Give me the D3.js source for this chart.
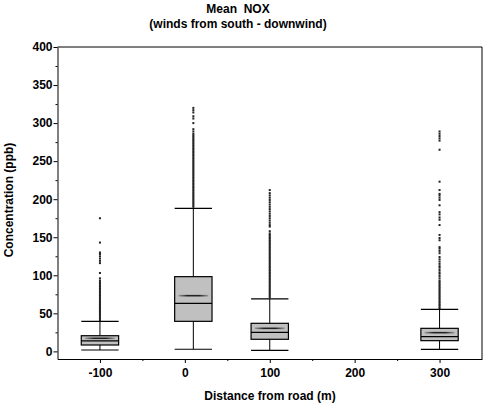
<!DOCTYPE html>
<html>
<head>
<meta charset="utf-8">
<script src="https://cdn.jsdelivr.net/npm/d3@7"></script>
<style>
  body { margin: 0; background: #fff; }
  svg text { font-family: "Liberation Sans", Arial, sans-serif; font-weight: bold; fill: #000; }
</style>
</head>
<body>
<svg id="chart" width="489" height="406"></svg>
<script>
// Box statistics per site (distance from road, m)
let distances = [-100, 10, 100, 300];
let whiskerLow = [1.8, 2.8, 1.4, 2.7];
let q1 = [8.4, 39.5, 15.9, 14.1];
let medians = [13.7, 63.2, 25.1, 19.3];
let means = [17.2, 73.2, 30.3, 24.6];
let q3 = [20.6, 98.2, 36.9, 30.3];
let whiskerHigh = [39.5, 188, 68.9, 55.3];

// Outliers (ppb)
let outliersM100 = [41, 43, 45, 47, 49, 51, 53, 55, 57, 59, 61, 63, 65, 67, 69, 71, 73, 75, 77, 79,
    81, 83, 85, 87, 89, 91, 93, 96, 103, 116, 119, 122, 125, 128, 130, 143, 175];
let outliers0 = [190, 192, 194, 196, 198, 200, 202, 204, 206, 208, 210, 212, 214, 216, 218, 220,
    222, 224, 226, 228, 230, 232, 234, 236, 238, 240, 242, 244, 246, 248, 250, 252, 254, 256, 258,
    260, 262, 264, 266, 268, 270, 272, 274, 276, 278, 280, 282, 284, 286, 289, 292, 300, 306, 309,
    314, 317, 320];
let outliers100 = [71, 73, 75, 77, 79, 81, 83, 85, 87, 89, 91, 93, 95, 97, 99, 101, 103, 105, 107,
    109, 111, 113, 115, 117, 119, 121, 123, 125, 127, 129, 131, 133, 135, 137, 139, 141, 143, 145,
    147, 149, 151, 153, 155, 158, 164, 166, 169, 172, 175, 178, 181, 184, 187, 190, 193, 196, 199,
    202, 205, 208, 212];
let outliers300 = [57, 59, 61, 63, 65, 67, 69, 71, 73, 75, 77, 79, 81, 83, 85, 87, 89, 91, 93, 96,
    99, 102, 104, 107, 110, 112, 115, 118, 121, 124, 129, 132, 135, 137, 146, 149, 153, 166, 173,
    176, 180, 183, 192, 199, 202, 205, 207, 212, 223, 265, 277, 280, 283, 286, 289];
let outliers = [outliersM100, outliers0, outliers100, outliers300];

let xTicks = [-100, 0, 100, 200, 300];
let yTicks = [0, 50, 100, 150, 200, 250, 300, 350, 400];

let svg = d3.select("#chart");

let x = d3.scaleLinear().domain([-150, 350]).range([57.5, 482]);
let y = d3.scaleLinear().domain([-10, 400]).range([359, 47]);
let boxW = 44;   // box width in data units

// Frame (top + right)
svg.append("path")
    .attr("d", "M" + x(-150) + "," + y(400) + "H" + x(350) + "V" + y(-10))
    .attr("fill", "none")
    .attr("stroke", "#000");

// Axes (plain hyphen for negatives, like the original)
let plain = function (d) { return String(d); };
let yAxis = svg.append("g")
    .attr("transform", "translate(" + x(-150) + ",0)")
    .call(d3.axisLeft(y).tickValues(yTicks).tickSize(4).tickSizeOuter(0).tickPadding(1).tickFormat(plain));
let yMinor = svg.append("g")
    .attr("transform", "translate(" + x(-150) + ",0)")
    .call(d3.axisLeft(y).tickValues(d3.range(25, 400, 50)).tickSize(2).tickSizeOuter(0).tickFormat(""));
let xAxis = svg.append("g")
    .attr("transform", "translate(0," + y(-10) + ")")
    .call(d3.axisBottom(x).tickValues(xTicks).tickSize(4).tickSizeOuter(0).tickPadding(5).tickFormat(plain));
let xMinor = svg.append("g")
    .attr("transform", "translate(0," + y(-10) + ")")
    .call(d3.axisBottom(x).tickValues([-50, 50, 150, 250]).tickSize(2).tickSizeOuter(0).tickFormat(""));

[yAxis, yMinor, xAxis, xMinor].forEach(function (g) {
    g.selectAll("path, line").attr("stroke", "#000");
    g.selectAll("text").attr("font-size", 12).attr("font-family", null).attr("fill", "#000");
});
yMinor.select(".domain").remove();
xMinor.select(".domain").remove();

// Mean line gradient (fading ends)
let grad = svg.append("defs").append("linearGradient").attr("id", "meanGrad");
grad.append("stop").attr("offset", "0%").attr("stop-color", "#999");
grad.append("stop").attr("offset", "30%").attr("stop-color", "#222");
grad.append("stop").attr("offset", "70%").attr("stop-color", "#222");
grad.append("stop").attr("offset", "100%").attr("stop-color", "#999");

let boxes = svg.append("g").attr("class", "boxes")
    .selectAll("g")
    .data(distances)
    .enter()
    .append("g");

// Outlier points
boxes.each(function (d, i) {
    d3.select(this).selectAll("rect.out")
        .data(outliers[i])
        .enter()
        .append("rect")
        .attr("class", "out")
        .attr("x", x(d) - 1)
        .attr("y", function (v) { return y(v) - 1; })
        .attr("width", 2)
        .attr("height", 2)
        .attr("fill", "#222");
});

// Whisker stem
boxes.append("line")
    .attr("x1", function (d) { return x(d); })
    .attr("x2", function (d) { return x(d); })
    .attr("y1", function (d, i) { return y(whiskerLow[i]); })
    .attr("y2", function (d, i) { return y(whiskerHigh[i]); })
    .attr("stroke", "#000");

// Whisker caps
[whiskerLow, whiskerHigh].forEach(function (arr) {
    boxes.append("line")
        .attr("x1", function (d) { return x(d - boxW / 2); })
        .attr("x2", function (d) { return x(d + boxW / 2); })
        .attr("y1", function (d, i) { return y(arr[i]); })
        .attr("y2", function (d, i) { return y(arr[i]); })
        .attr("stroke", "#000")
        .attr("stroke-width", 1.2);
});

// Box
boxes.append("rect")
    .attr("x", function (d) { return x(d - boxW / 2); })
    .attr("width", x(boxW) - x(0))
    .attr("y", function (d, i) { return y(q3[i]); })
    .attr("height", function (d, i) { return y(q1[i]) - y(q3[i]); })
    .attr("fill", "#c0c0c0")
    .attr("stroke", "#000")
    .attr("stroke-width", 1.2);

// Median
boxes.append("line")
    .attr("x1", function (d) { return x(d - boxW / 2); })
    .attr("x2", function (d) { return x(d + boxW / 2); })
    .attr("y1", function (d, i) { return y(medians[i]); })
    .attr("y2", function (d, i) { return y(medians[i]); })
    .attr("stroke", "#000")
    .attr("stroke-width", 1.2);

// Mean
boxes.append("rect")
    .attr("x", function (d) { return x(d - boxW * 0.4); })
    .attr("width", x(boxW * 0.8) - x(0))
    .attr("y", function (d, i) { return y(means[i]) - 0.8; })
    .attr("height", 1.6)
    .attr("fill", "url(#meanGrad)");

// Titles
svg.append("text")
    .attr("x", 238).attr("y", 13)
    .attr("text-anchor", "middle")
    .attr("font-size", 12)
    .attr("xml:space", "preserve")
    .text("Mean  NOX");
svg.append("text")
    .attr("x", 238).attr("y", 28)
    .attr("text-anchor", "middle")
    .attr("font-size", 12)
    .text("(winds from south - downwind)");

svg.append("text")
    .attr("x", 270).attr("y", 400)
    .attr("text-anchor", "middle")
    .attr("font-size", 12)
    .text("Distance from road (m)");

svg.append("text")
    .attr("transform", "translate(13,200) rotate(-90)")
    .attr("text-anchor", "middle")
    .attr("font-size", 12)
    .text("Concentration (ppb)");
</script>
</body>
</html>
